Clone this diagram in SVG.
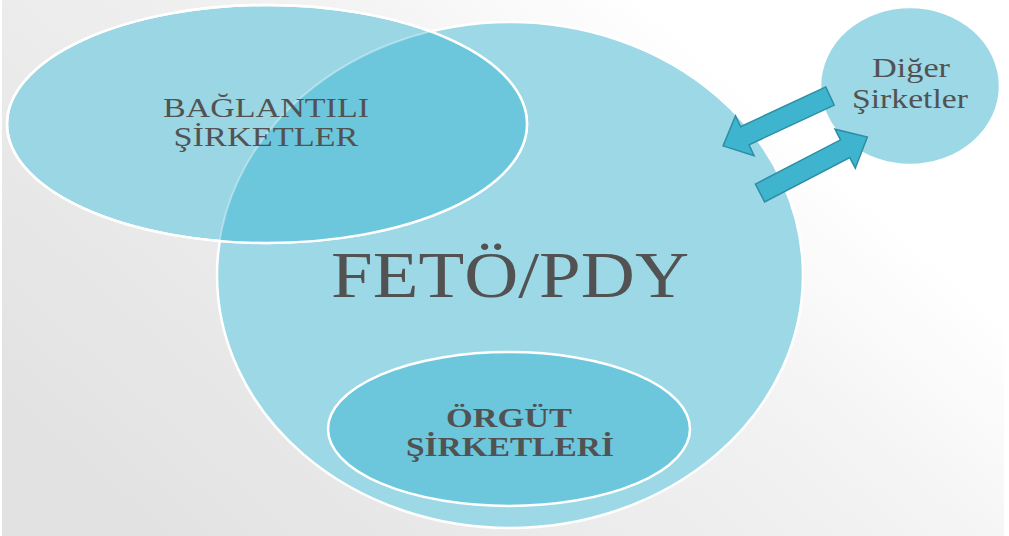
<svg xmlns="http://www.w3.org/2000/svg" width="1009" height="536" viewBox="0 0 1009 536">
  <defs>
    <linearGradient id="bg" x1="0" y1="0.75" x2="1" y2="0.15">
      <stop offset="0" stop-color="#e2e2e2"/>
      <stop offset="0.55" stop-color="#f2f2f2"/>
      <stop offset="0.8" stop-color="#ffffff"/>
      <stop offset="1" stop-color="#ffffff"/>
    </linearGradient>
    <clipPath id="clipBagli">
      <ellipse cx="267" cy="124" rx="260" ry="119"/>
    </clipPath>
    <style>
      .light { fill: #9dd8e6; stroke: #ffffff; stroke-width: 2.5; }
      .dark { fill: #6cc7dd; stroke: #ffffff; stroke-width: 2.5; }
      .lbl { font-family: "Liberation Serif", "Times New Roman", serif; fill: #525252; text-anchor: middle; }
      .bold { font-weight: bold; }
      .arrow { fill: #3fb4ce; stroke: #2c8ea6; stroke-width: 1.5; stroke-linejoin: miter; }
    </style>
  </defs>

  <rect x="0" y="0" width="1009" height="536" fill="url(#bg)"/>
  <rect x="0" y="0" width="2" height="536" fill="#ffffff"/>
  <rect x="1004" y="0" width="5" height="536" fill="#ffffff"/>

  <g id="node-feto">
    <ellipse class="light" cx="510" cy="275" rx="293" ry="253"/>
  </g>

  <g id="node-bagli">
    <ellipse class="light" cx="267" cy="124" rx="260" ry="119" style="fill:#9bd6e4"/>
    <ellipse cx="510" cy="275" rx="293" ry="253" fill="#6cc6dc" stroke="#ffffff" stroke-opacity="0.35" stroke-width="2" clip-path="url(#clipBagli)"/>
    <ellipse cx="267" cy="124" rx="260" ry="119" fill="none" stroke="#ffffff" stroke-width="2.5"/>
    <text class="lbl" x="266" y="116.5" font-size="26.5" textLength="206" lengthAdjust="spacingAndGlyphs">BAĞLANTILI</text>
    <text class="lbl" x="266" y="146" font-size="26.5" textLength="185" lengthAdjust="spacingAndGlyphs">ŞİRKETLER</text>
  </g>

  <g id="node-feto-label">
    <text class="lbl" x="510" y="297" font-size="66" textLength="358" lengthAdjust="spacingAndGlyphs">FETÖ/PDY</text>
  </g>

  <g id="node-orgut">
    <ellipse class="dark" cx="509" cy="429" rx="181" ry="77"/>
    <text class="lbl bold" x="509" y="426.5" font-size="26.5" textLength="126" lengthAdjust="spacingAndGlyphs">ÖRGÜT</text>
    <text class="lbl bold" x="510" y="456" font-size="26.5" textLength="208" lengthAdjust="spacingAndGlyphs">ŞİRKETLERİ</text>
  </g>

  <g id="node-diger">
    <ellipse class="light" cx="910" cy="86" rx="90" ry="79"/>
    <text class="lbl" x="911" y="77" font-size="27" textLength="78" lengthAdjust="spacingAndGlyphs">Diğer</text>
    <text class="lbl" x="910" y="108" font-size="27" textLength="116" lengthAdjust="spacingAndGlyphs">Şirketler</text>
  </g>

  <g id="connectors">
    <path class="arrow" transform="translate(830,96) rotate(155)" d="M0,-10 L94,-10 L94,-22 L118,0 L94,22 L94,10 L0,10 Z"/>
    <path class="arrow" transform="translate(760,193) rotate(-27.5)" d="M0,-10 L96,-10 L96,-22 L121,0 L96,22 L96,10 L0,10 Z"/>
  </g>
</svg>
